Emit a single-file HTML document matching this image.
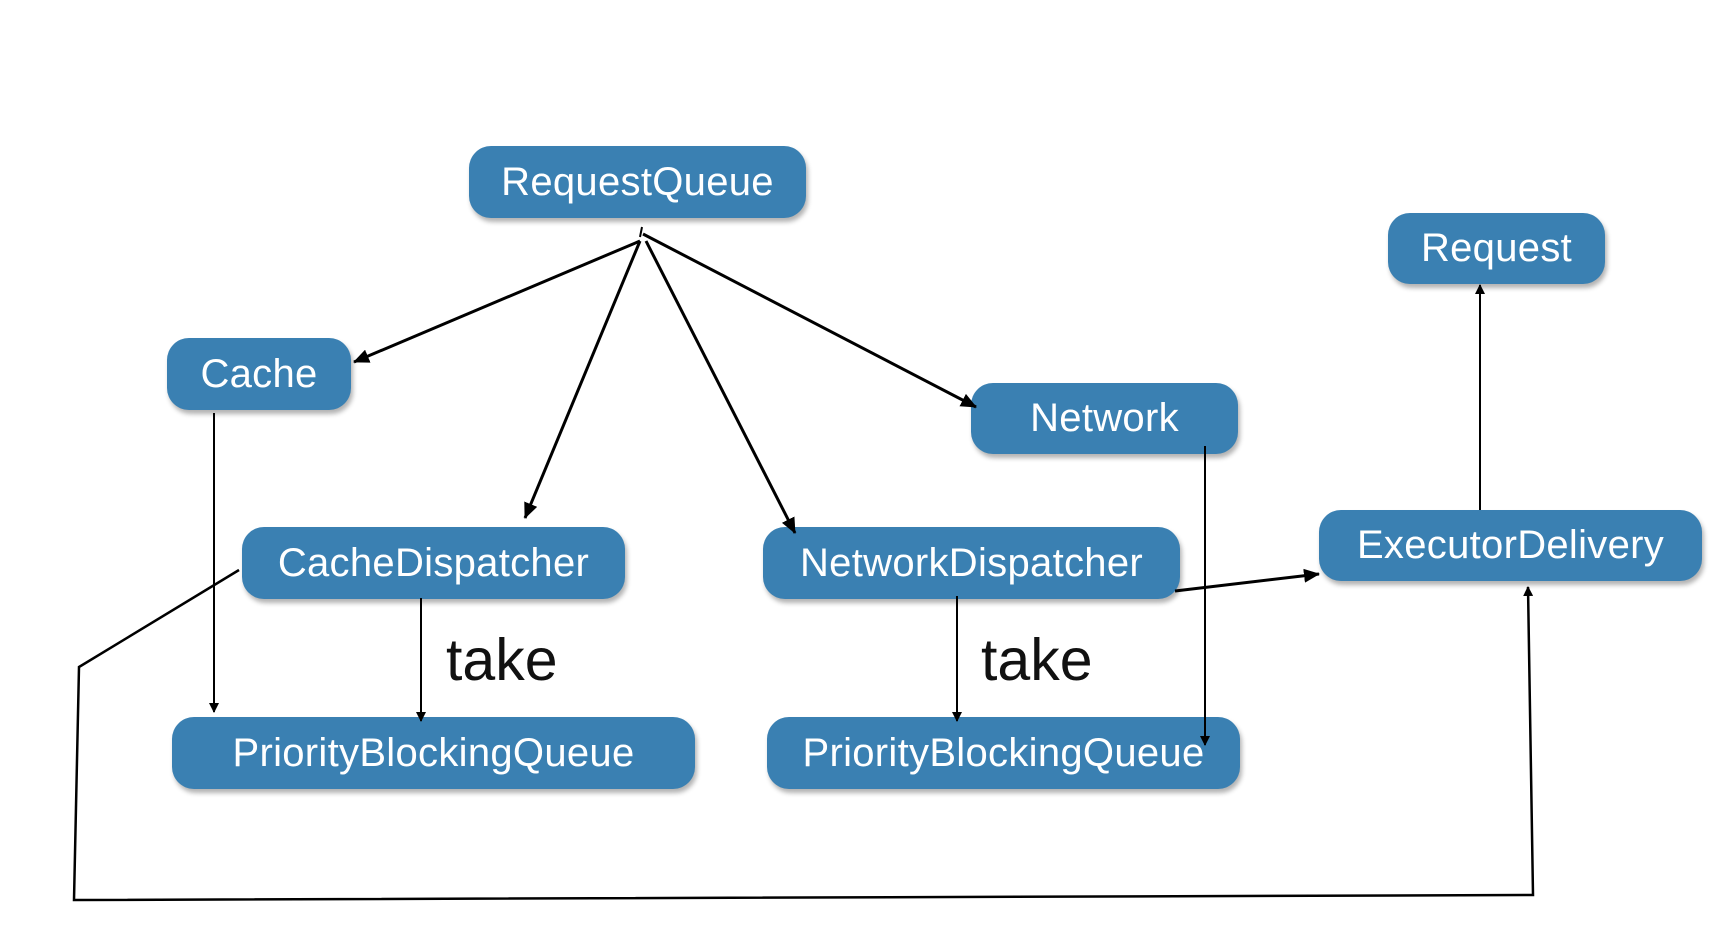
<!DOCTYPE html>
<html><head><meta charset="utf-8"><style>
body{margin:0;width:1732px;height:934px;background:#fff;position:relative;overflow:hidden;font-family:"Liberation Sans",sans-serif}
.n{position:absolute;background:#3a80b2;border-radius:22px;color:#fff;display:flex;align-items:center;justify-content:center;font-size:40px;letter-spacing:0.3px;box-shadow:2px 4px 5px rgba(0,0,0,0.3)}
.t{position:absolute;font-size:59px;color:#111}
svg{position:absolute;left:0;top:0}
</style></head><body>
<div class="n" style="left:469px;top:146px;width:337px;height:72px">RequestQueue</div>
<div class="n" style="left:1388px;top:213px;width:217px;height:71px">Request</div>
<div class="n" style="left:167px;top:338px;width:184px;height:72px">Cache</div>
<div class="n" style="left:971px;top:383px;width:267px;height:71px">Network</div>
<div class="n" style="left:242px;top:527px;width:383px;height:72px">CacheDispatcher</div>
<div class="n" style="left:763px;top:527px;width:417px;height:72px">NetworkDispatcher</div>
<div class="n" style="left:1319px;top:510px;width:383px;height:71px">ExecutorDelivery</div>
<div class="n" style="left:172px;top:717px;width:523px;height:72px">PriorityBlockingQueue</div>
<div class="n" style="left:767px;top:717px;width:473px;height:72px">PriorityBlockingQueue</div>
<div class="t" style="left:446px;top:626px">take</div>
<div class="t" style="left:981px;top:626px">take</div>
<svg width="1732" height="934" viewBox="0 0 1732 934">
<defs><marker id="a" markerWidth="10" markerHeight="10" refX="9" refY="5" orient="auto" markerUnits="userSpaceOnUse" viewBox="0 0 10 10"><path d="M0,0 L10,5 L0,10z" fill="#000"/></marker>
<marker id="b" markerWidth="16" markerHeight="14" refX="15" refY="7" orient="auto" markerUnits="userSpaceOnUse" viewBox="0 0 16 14"><path d="M0,0 L16,7 L0,14z" fill="#000"/></marker></defs>
<g stroke="#000" fill="none">
<line x1="642" y1="227" x2="640" y2="237" stroke-width="2"/>
<line x1="640" y1="241" x2="354" y2="362" stroke-width="3" marker-end="url(#b)"/>
<line x1="640" y1="241" x2="525" y2="518" stroke-width="3" marker-end="url(#b)"/>
<line x1="646" y1="241" x2="795" y2="533" stroke-width="3" marker-end="url(#b)"/>
<line x1="643" y1="234" x2="976" y2="407" stroke-width="3" marker-end="url(#b)"/>
<line x1="214" y1="413" x2="214" y2="712" stroke-width="2" marker-end="url(#a)"/>
<line x1="421" y1="598" x2="421" y2="721" stroke-width="2" marker-end="url(#a)"/>
<line x1="957" y1="596" x2="957" y2="721" stroke-width="2" marker-end="url(#a)"/>
<line x1="1205" y1="446" x2="1205" y2="745" stroke-width="2" marker-end="url(#a)"/>
<line x1="1175" y1="591" x2="1319" y2="574" stroke-width="3" marker-end="url(#b)"/>
<line x1="1480" y1="510" x2="1480" y2="285" stroke-width="2" marker-end="url(#a)"/>
<polyline points="239,570 79,667 74,900 1533,895 1528,587" stroke-width="2.5" marker-end="url(#a)"/>
</g></svg>
</body></html>
